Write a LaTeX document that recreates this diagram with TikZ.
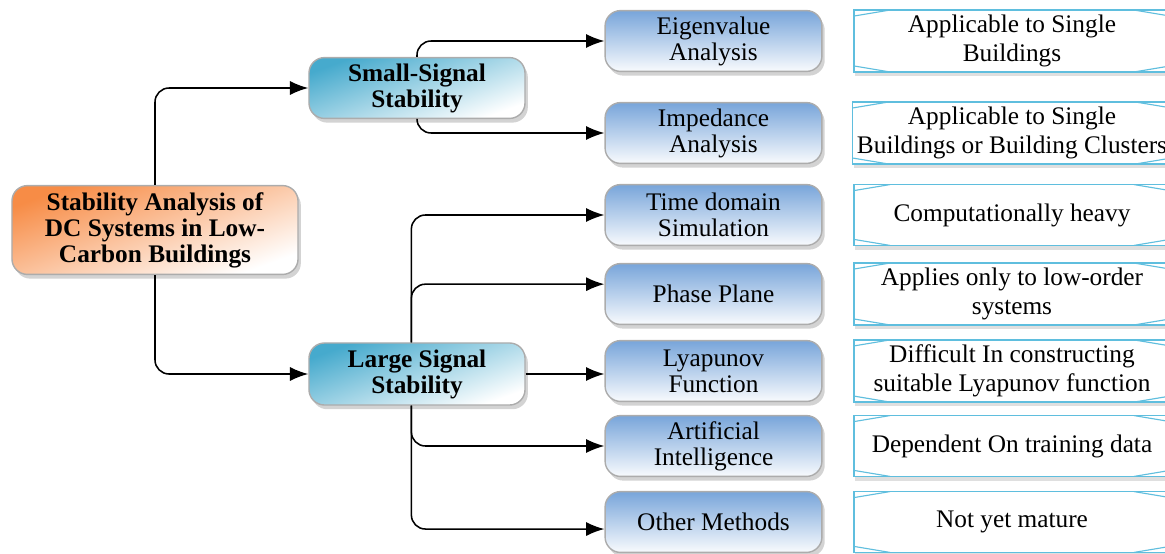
\documentclass[tikz,border=0pt]{standalone}
\usepackage{fontspec}
\setmainfont{Liberation Serif}
\usetikzlibrary{arrows.meta,shapes,positioning,calc,shadows}

\definecolor{rootorange}{RGB}{247,140,70}
\definecolor{stabcyan}{RGB}{70,170,205}
\definecolor{methodblue}{RGB}{120,165,218}
\definecolor{notecyan}{RGB}{95,190,222}

\tikzset{
  basebox/.style={rectangle,rounded corners=11pt,draw=gray!65,line width=1pt,
    align=center,inner sep=2pt,
    drop shadow={opacity=0.35,shadow xshift=2pt,shadow yshift=-3pt}},
  rootbox/.style={basebox,top color=rootorange,middle color=rootorange!55,bottom color=white,
    shading angle=20,minimum width=7.15cm,minimum height=2.22cm,
    font=\fontsize{18}{18.5}\selectfont\bfseries},
  stabbox/.style={basebox,top color=stabcyan,middle color=stabcyan!45,bottom color=white,
    shading angle=20,minimum width=5.4cm,minimum height=1.52cm,
    font=\fontsize{18}{18.5}\selectfont\bfseries},
  methodbox/.style={basebox,top color=methodblue,bottom color=white!95!methodblue,
    minimum width=5.42cm,minimum height=1.52cm,
    font=\fontsize{18}{18.5}\selectfont},
  notebox/.style={rectangle,draw=notecyan,line width=1pt,fill=white,align=center,
    minimum width=7.9cm,minimum height=1.52cm,
    font=\fontsize{18}{21}\selectfont,
    drop shadow={opacity=0.25,shadow xshift=1pt,shadow yshift=-3pt},
    path picture={
      \draw[notecyan,line width=0.8pt]
        ($(path picture bounding box.north west)+(0cm,-0.15cm)$) -- ($(path picture bounding box.north west)+(0.9cm,0cm)$)
        ($(path picture bounding box.south west)+(0cm,0.15cm)$) -- ($(path picture bounding box.south west)+(0.9cm,0cm)$)
        ($(path picture bounding box.north east)+(0cm,-0.15cm)$) -- ($(path picture bounding box.north east)+(-0.9cm,0cm)$)
        ($(path picture bounding box.south east)+(0cm,0.15cm)$) -- ($(path picture bounding box.south east)+(-0.9cm,0cm)$);
    }},
  conn/.style={line width=1.1pt,rounded corners=10pt,-{Latex[length=13pt,width=10pt]}}
}

\begin{document}
\begin{tikzpicture}[x=0.025cm,y=-0.025cm]
\useasboundingbox (0,0) rectangle (1165,553);

% root and the two stability classes
\node[rootbox] (root) at (155,230) {Stability Analysis of\\DC Systems in Low-\\Carbon Buildings};
\node[stabbox] (small) at (417,88) {Small-Signal\\Stability};
\node[stabbox,minimum height=1.55cm] (large) at (417,374) {Large Signal\\Stability};

% methods
\node[methodbox] (eig) at (713.5,41) {Eigenvalue\\Analysis};
\node[methodbox] (imp) at (713.5,133) {Impedance\\Analysis};
\node[methodbox] (time) at (713.5,215) {Time domain\\Simulation};
\node[methodbox] (phase) at (713.5,294) {Phase Plane};
\node[methodbox] (lyap) at (713.5,371) {Lyapunov\\Function};
\node[methodbox] (ai) at (713.5,446) {Artificial\\Intelligence};
\node[methodbox] (other) at (713.5,522) {Other Methods};

% remarks
\node[notebox] (eignote) at (1012,41) {Applicable to Single\\Buildings};
\node[notebox] (impnote) at (1012,133) {Applicable to Single\\Buildings or Building Clusters};
\node[notebox] (timenote) at (1012,215) {Computationally heavy};
\node[notebox] (phasenote) at (1012,294) {Applies only to low-order\\systems};
\node[notebox] (lyapnote) at (1012,371) {Difficult In constructing\\suitable Lyapunov function};
\node[notebox] (ainote) at (1012,446) {Dependent On training data};
\node[notebox] (othernote) at (1012,522) {Not yet mature};

% connectors
\draw[conn] (root.north) |- (small.west);
\draw[conn] (root.south) |- (large.west);
\draw[conn] (small.north) |- (eig.west);
\draw[conn] (small.south) |- (imp.west);
\draw[conn] ([xshift=-4]large.north) |- (time.west);
\draw[conn] ([xshift=-4]large.north) |- ([yshift=7]phase.west);
\draw[conn] (large.east) -- (large.east -| lyap.west);
\draw[conn] ([xshift=-4]large.south) |- (ai.west);
\draw[conn] ([xshift=-4]large.south) |- ([yshift=-5]other.west);
\end{tikzpicture}
\end{document}
